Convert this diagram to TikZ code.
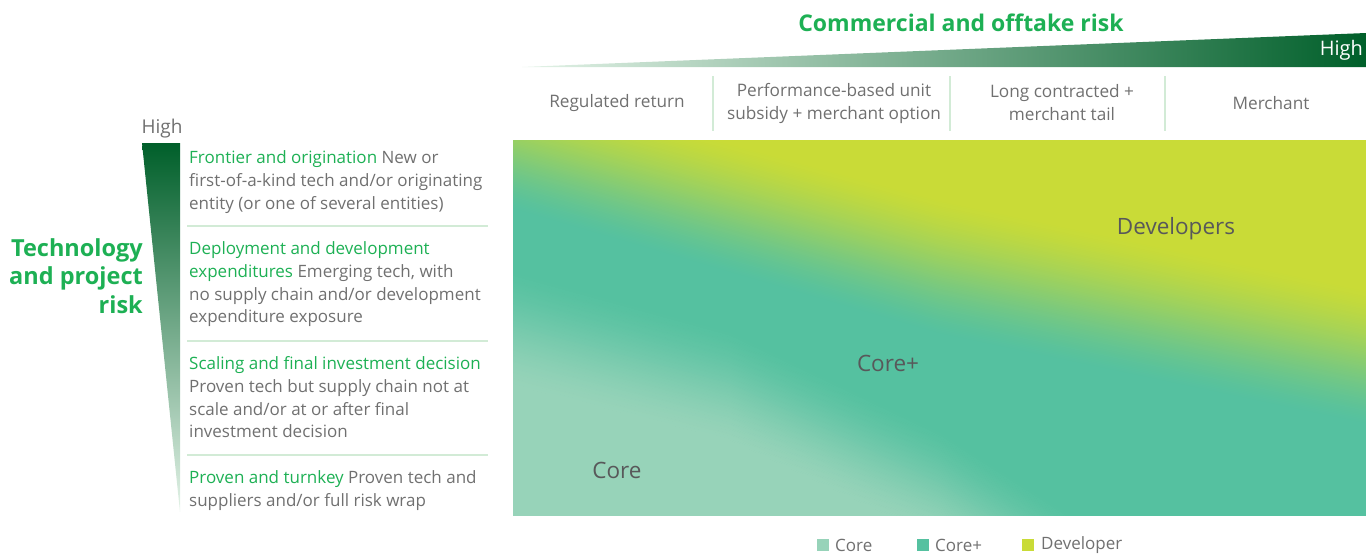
\documentclass[tikz,border=0pt]{standalone}
\usepackage{fontspec}
\setmainfont{Open Sans}
\definecolor{coreC}{HTML}{97D3B9}
\definecolor{coreP}{HTML}{55C1A0}
\definecolor{devC}{HTML}{C9DB37}
\definecolor{bcg}{HTML}{1DB054}
\definecolor{dkg}{HTML}{005F2A}
\definecolor{midg}{HTML}{0CA64E}
\definecolor{lightg}{HTML}{E4F3E8}
\definecolor{txt}{HTML}{707070}
\definecolor{lbl}{HTML}{58585A}
\definecolor{sep}{HTML}{D2EBD6}
\tikzset{
  desc/.style={anchor=north west, inner sep=0pt, align=left, text=txt, font=\fontsize{17}{22.7}\selectfont},
  col/.style={align=center, inner sep=0pt, text=txt, font=\fontsize{17.2}{23}\selectfont},
  sepline/.style={draw=sep, line width=2pt},
  zone/.style={inner sep=0pt, text=lbl, font=\fontsize{22.5}{26}\selectfont},
  leg/.style={anchor=west, inner sep=0pt, text=txt, font=\fontsize{17}{19}\selectfont},
  sq/.style={minimum size=12pt, inner sep=0pt}
}
\begin{document}
\begin{tikzpicture}[x=1pt,y=-1pt]
\useasboundingbox (0,0) rectangle (1366,554);
% gradient panel
\begin{scope}
\clip (513,140) rectangle (1366,515);
\fill[devC] (513,140) rectangle (1366,515);
% developer -> core+ transition
\foreach \i in {0,...,79}{
  \pgfmathsetmacro\ta{\i/80}
  \pgfmathsetmacro\tb{(\i+1)/80+0.005}
  \pgfmathsetmacro\tm{(\i+0.5)/80}
  \pgfmathsetmacro\p{100*(0.4*\tm+0.6*(3*\tm*\tm-2*\tm*\tm*\tm))}
  \fill[coreP!\p!devC] (513,{85+125*\ta}) -- (940,{200+135*\ta}) -- (1366,{290+135*\ta})
     -- (1366,{290+135*\tb}) -- (940,{200+135*\tb}) -- (513,{85+125*\tb}) -- cycle;
}
\fill[coreP] (513,210) -- (940,335) -- (1366,425) -- (1366,1200) -- (513,1200) -- cycle;
% core+ -> core transition
\foreach \i in {0,...,79}{
  \pgfmathsetmacro\ta{\i/80}
  \pgfmathsetmacro\tb{(\i+1)/80+0.005}
  \pgfmathsetmacro\tm{(\i+0.5)/80}
  \pgfmathsetmacro\p{100*(0.4*\tm+0.6*(3*\tm*\tm-2*\tm*\tm*\tm))}
  \fill[coreC!\p!coreP] (513,{270+115*\ta}) -- (730,{330+110*\ta}) -- (940,{430+110*\ta}) -- (1366,{700+120*\ta})
     -- (1366,{700+120*\tb}) -- (940,{430+110*\tb}) -- (730,{330+110*\tb}) -- (513,{270+115*\tb}) -- cycle;
}
\fill[coreC] (513,385) -- (730,440) -- (940,540) -- (1366,820) -- (1366,1200) -- (513,1200) -- cycle;
\end{scope}
\node[zone] (dev) at (1176,229) {Developers};
\node[zone] (corep) at (888,363) {Core+};
\node[zone] (core) at (617,470) {Core};
% top wedge
\shade[left color=lightg, middle color=midg, right color=dkg] (522,67) -- (1366,33) -- (1366,67) -- cycle;
\node[anchor=east, inner sep=0pt, text=white, font=\fontsize{20}{22}\selectfont] (hightop) at (1363,50) {High};
\node[inner sep=0pt, text=bcg, font=\fontsize{23}{26}\bfseries] (title) at (961,23) {Commercial and offtake risk};
% columns
\node[col] (c1) at (617,103) {Regulated return};
\node[col] (c2) at (834,103) {Performance-based unit\\subsidy + merchant option};
\node[col] (c3) at (1062,103) {Long contracted +\\merchant tail};
\node[col] (c4) at (1271,103) {Merchant};
\coordinate (s1a) at (713,76); \coordinate (s1b) at (713,131);
\coordinate (s2a) at (950,76); \coordinate (s2b) at (950,131);
\coordinate (s3a) at (1165,76); \coordinate (s3b) at (1165,131);
\draw[sepline] (s1a) -- (s1b);
\draw[sepline] (s2a) -- (s2b);
\draw[sepline] (s3a) -- (s3b);
% left wedge
\shade[top color=dkg, middle color=bcg, bottom color=lightg] (142,143) -- (180,143) -- (180,512) -- cycle;
\node[inner sep=0pt, text=txt, font=\fontsize{19}{22}\selectfont] (highleft) at (162,129) {High};
\node[anchor=east, align=right, inner sep=0pt, text=bcg, font=\fontsize{23.5}{28.5}\bfseries] (tech) at (143,276) {Technology\\and project\\risk};
% descriptions
\node[desc] (d1) at (189,150.5) {{\color{bcg}Frontier and origination} New or\\first-of-a-kind tech and/or originating\\entity (or one of several entities)};
\node[desc] (d2) at (189,241.5) {{\color{bcg}Deployment and development}\\{\color{bcg}expenditures} Emerging tech, with\\no supply chain and/or development\\expenditure exposure};
\node[desc] (d3) at (189,356.5) {{\color{bcg}Scaling and final investment decision}\\Proven tech but supply chain not at\\scale and/or at or after final\\investment decision};
\node[desc] (d4) at (189,470.5) {{\color{bcg}Proven and turnkey} Proven tech and\\suppliers and/or full risk wrap};
\coordinate (h1a) at (187,226); \coordinate (h1b) at (488,226);
\coordinate (h2a) at (187,341); \coordinate (h2b) at (488,341);
\coordinate (h3a) at (187,455); \coordinate (h3b) at (488,455);
\draw[sepline] (h1a) -- (h1b);
\draw[sepline] (h2a) -- (h2b);
\draw[sepline] (h3a) -- (h3b);
% legend
\node[sq, fill=coreC] (lq1) at (823,545) {};
\node[leg] (l1) at (835,545) {Core};
\node[sq, fill=coreP] (lq2) at (923,545) {};
\node[leg] (l2) at (935,545) {Core+};
\node[sq, fill=devC] (lq3) at (1028,545) {};
\node[leg] (l3) at (1041,545) {Developer};
\end{tikzpicture}
\end{document}
